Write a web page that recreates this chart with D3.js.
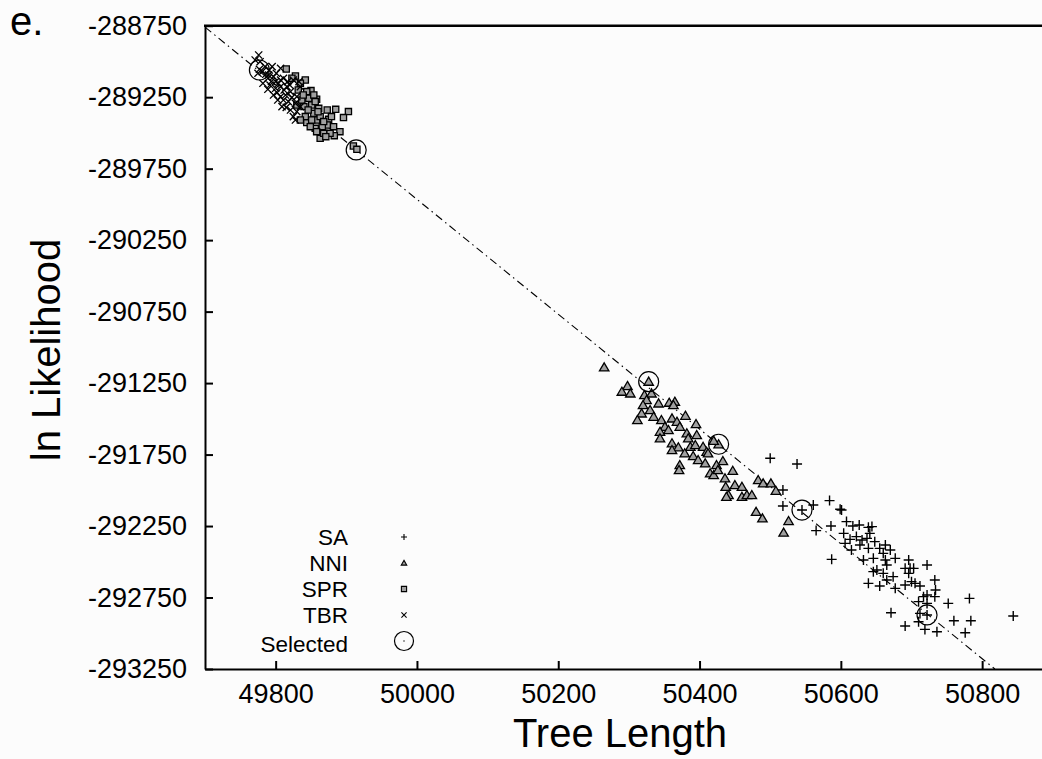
<!DOCTYPE html>
<html>
<head>
<meta charset="utf-8">
<script src="https://cdn.jsdelivr.net/npm/d3@7"></script>
<style>
  body { margin: 0; background: #fcfcfc; }
  svg { display: block; font-family: "Liberation Sans", Arial, sans-serif; }
</style>
</head>
<body>
<svg width="1042" height="759"></svg>
<script>
// tick values
const xTicks = [49800, 50000, 50200, 50400, 50600, 50800];
const yTicks = [-288750, -289250, -289750, -290250, -290750, -291250, -291750, -292250, -292750, -293250];

// series: [tree length, ln likelihood]
const tbr = [[49776,-288955],[49771,-288990],[49778,-289002],[49777,-289055],[49775,-289083],[49781,-289071],
  [49789,-289195],[49792,-289165],[49802,-289218],[49809,-289316],[49807,-289246],[49797,-289106],[49807,-289048],
  [49811,-289118],[49816,-289176],[49828,-289293],[49825,-289386],[49821,-289340],[49830,-289246],[49835,-289176],
  [49795,-289036],[49804,-289153],[49814,-289235],[49800,-289188],[49825,-289130],[49821,-289211],[49785,-289036],
  [49790,-289095],[49800,-289141],[49811,-289270],[49818,-289281],[49830,-289351],[49828,-289410],[49807,-289130],
  [49797,-289235],[49835,-289316],[49791,-289060],[49801,-289083],[49807,-289176],[49817,-289141],[49823,-289251],
  [49803,-289270],[49815,-289321],[49789,-289118],[49782,-289153],[49833,-289141],[49794,-289140],[49812,-289200],
  [49786,-289090],[49820,-289165]];
const spr = [[49815,-289053],[49828,-289102],[49842,-289130],[49850,-289204],[49858,-289265],[49873,-289340],
  [49885,-289335],[49903,-289351],[49896,-289393],[49875,-289405],[49858,-289410],[49856,-289468],[49844,-289428],
  [49863,-289538],[49882,-289456],[49891,-289491],[49868,-289503],[49883,-289519],[49910,-289591],[49915,-289615],
  [49851,-289305],[49854,-289363],[49835,-289153],[49847,-289258],[49840,-289316],[49861,-289328],[49873,-289445],
  [49877,-289503],[49823,-289118],[49832,-289200],[49854,-289235],[49842,-289386],[49866,-289456],[49851,-289410],
  [49830,-289305],[49837,-289270],[49844,-289211],[49856,-289281],[49863,-289386],[49849,-289456],[49868,-289421],
  [49879,-289386],[49835,-289410],[49858,-289491],[49871,-289526],[49846,-289340],[49860,-289352],[49839,-289235]];
const nni = [[50265,-291140],[50298,-291270],[50290,-291310],[50302,-291322],[50328,-291240],[50322,-291333],
  [50332,-291322],[50325,-291368],[50320,-291403],[50342,-291392],[50330,-291438],[50318,-291462],[50312,-291508],
  [50335,-291485],[50357,-291387],[50365,-291380],[50363,-291403],[50346,-291508],[50361,-291497],[50368,-291520],
  [50351,-291555],[50344,-291590],[50356,-291578],[50372,-291555],[50380,-291478],[50395,-291536],[50344,-291636],
  [50382,-291601],[50384,-291636],[50396,-291613],[50361,-291671],[50370,-291699],[50361,-291718],[50387,-291695],
  [50379,-291741],[50394,-291683],[50405,-291695],[50410,-291730],[50412,-291741],[50391,-291760],[50398,-291788],
  [50408,-291811],[50427,-291678],[50420,-291653],[50433,-291795],[50424,-291823],[50372,-291823],[50371,-291858],
  [50415,-291881],[50420,-291893],[50426,-291858],[50447,-291863],[50436,-291916],[50437,-291975],[50450,-291963],
  [50460,-291975],[50441,-292033],[50438,-292045],[50460,-292045],[50467,-292033],[50474,-292033],[50483,-291928],
  [50490,-291951],[50501,-291951],[50508,-292003],[50480,-292150],[50489,-292196],[50526,-292215],[50519,-292296]];
const sa = [[50500,-291776],[50518,-291998],[50518,-292110],[50538,-291816],[50561,-292103],[50545,-292138],
  [50584,-292072],[50599,-292133],[50601,-292138],[50608,-292219],[50586,-292250],[50565,-292282],[50604,-292301],
  [50617,-292250],[50626,-292243],[50639,-292259],[50644,-292254],[50613,-292343],[50622,-292324],[50630,-292348],
  [50641,-292301],[50637,-292336],[50648,-292359],[50606,-292371],[50615,-292418],[50627,-292383],[50639,-292406],
  [50655,-292406],[50663,-292383],[50670,-292418],[50663,-292488],[50677,-292476],[50646,-292476],[50632,-292488],
  [50587,-292483],[50660,-292441],[50696,-292488],[50698,-292546],[50703,-292546],[50691,-292546],[50722,-292523],
  [50665,-292523],[50651,-292558],[50646,-292569],[50660,-292581],[50696,-292581],[50700,-292639],[50705,-292651],
  [50691,-292662],[50712,-292669],[50674,-292604],[50665,-292627],[50655,-292669],[50639,-292651],[50677,-292686],
  [50733,-292627],[50734,-292697],[50733,-292744],[50722,-292732],[50717,-292744],[50722,-292791],[50710,-292779],
  [50752,-292791],[50782,-292756],[50671,-292856],[50712,-292861],[50722,-292872],[50710,-292919],[50691,-292949],
  [50719,-292973],[50736,-292989],[50760,-292912],[50784,-292912],[50776,-292996],[50844,-292879]];
const selected = [[49777,-289060],[49914,-289619],[50328,-291240],[50427,-291678],[50545,-292138],[50722,-292872]];
const fitLine = [[49700,-288760],[50818,-293250]];

const legendLabels = ["SA", "NNI", "SPR", "TBR", "Selected"];

const svg = d3.select("svg");
const x = d3.scaleLinear().domain([49700, 50900]).range([205, 1052.8]);
const y = d3.scaleLinear().domain([-293250, -288750]).range([669, 25.7]);

svg.append("clipPath").attr("id", "plot")
   .append("rect").attr("x", 205).attr("y", 25).attr("width", 840).attr("height", 645);

// marker shapes
const shapes = {
  SA: s => `M${-s},0H${s}M0,${-s}V${s}`,
  NNI: s => `M0,${-s}L${s*1.05},${s*0.8}H${-s*1.05}Z`,
  SPR: s => `M${-s},${-s}H${s}V${s}H${-s}Z`,
  TBR: s => `M${-s},${-s}L${s},${s}M${-s},${s}L${s},${-s}`
};
const fills = { SA: "none", NNI: "#a0a0a0", SPR: "#a0a0a0", TBR: "none" };

const g = svg.append("g").attr("clip-path", "url(#plot)");

g.append("path")
 .attr("d", d3.line().x(d => x(d[0])).y(d => y(d[1]))(fitLine))
 .attr("fill", "none").attr("stroke", "#000").attr("stroke-width", 1.1)
 .attr("stroke-dasharray", "8,4,1.5,4");

const drawSeries = (data, key, size) =>
  g.append("g").selectAll("path")
   .data(data).enter().append("path")
   .attr("transform", d => `translate(${x(d[0])},${y(d[1])})`)
   .attr("d", shapes[key](size))
   .attr("fill", fills[key]).attr("stroke", "#000").attr("stroke-width", key == "SA" ? 1.4 : 1.3);

drawSeries(spr, "SPR", 3.1);
drawSeries(tbr, "TBR", 3.6);
drawSeries(nni, "NNI", 4.5);
drawSeries(sa, "SA", 5);

g.append("g").selectAll("circle")
 .data(selected).enter().append("circle")
 .attr("cx", d => x(d[0])).attr("cy", d => y(d[1])).attr("r", 10)
 .attr("fill", "none").attr("stroke", "#000").attr("stroke-width", 1.2);

// axes
const yAxis = svg.append("g").attr("transform", "translate(205,0)")
  .call(d3.axisLeft(y).tickValues(yTicks).tickFormat(String).tickSize(-8).tickSizeOuter(0).tickPadding(18));
const xAxis = svg.append("g").attr("transform", "translate(0,669)")
  .call(d3.axisBottom(x).tickValues(xTicks).tickFormat(String).tickSize(-8).tickSizeOuter(0).tickPadding(15));
[xAxis, yAxis].forEach(a => {
  a.selectAll("text").attr("font-size", 27).attr("font-family", "Liberation Sans, Arial, sans-serif").attr("fill", "#000");
  a.selectAll("line").attr("stroke-width", 2);
  a.select(".domain").attr("stroke-width", 2);
});
svg.append("line").attr("x1", 204).attr("x2", 1042).attr("y1", 25.7).attr("y2", 25.7)
   .attr("stroke", "#000").attr("stroke-width", 2.4);

// titles
svg.append("text").attr("x", 10).attr("y", 35).attr("font-size", 40).text("e.");
svg.append("text").attr("x", 620).attr("y", 747).attr("font-size", 40)
   .attr("text-anchor", "middle").text("Tree Length");
svg.append("text").attr("transform", "translate(60,350) rotate(-90)").attr("font-size", 40)
   .attr("text-anchor", "middle").text("ln Likelihood");

// legend
const legendY = [545, 571, 597, 623, 652];
const legend = svg.append("g");
legendLabels.forEach((k, i) => {
  legend.append("text").attr("x", 348).attr("y", legendY[i]).attr("font-size", 22.5)
        .attr("text-anchor", "end").text(k);
  const cy = legendY[i] - 8;
  if (k == "Selected") {
    legend.append("circle").attr("cx", 404).attr("cy", cy - 3).attr("r", 9.5)
          .attr("fill", "none").attr("stroke", "#000").attr("stroke-width", 1.2);
    legend.append("circle").attr("cx", 404).attr("cy", cy - 3).attr("r", 0.7).attr("fill", "#000");
  } else {
    legend.append("path").attr("transform", `translate(404,${cy})`)
          .attr("d", shapes[k](k == "SA" ? 3 : 2.6))
          .attr("fill", fills[k]).attr("stroke", "#000").attr("stroke-width", 1.1);
  }
});
</script>
</body>
</html>
